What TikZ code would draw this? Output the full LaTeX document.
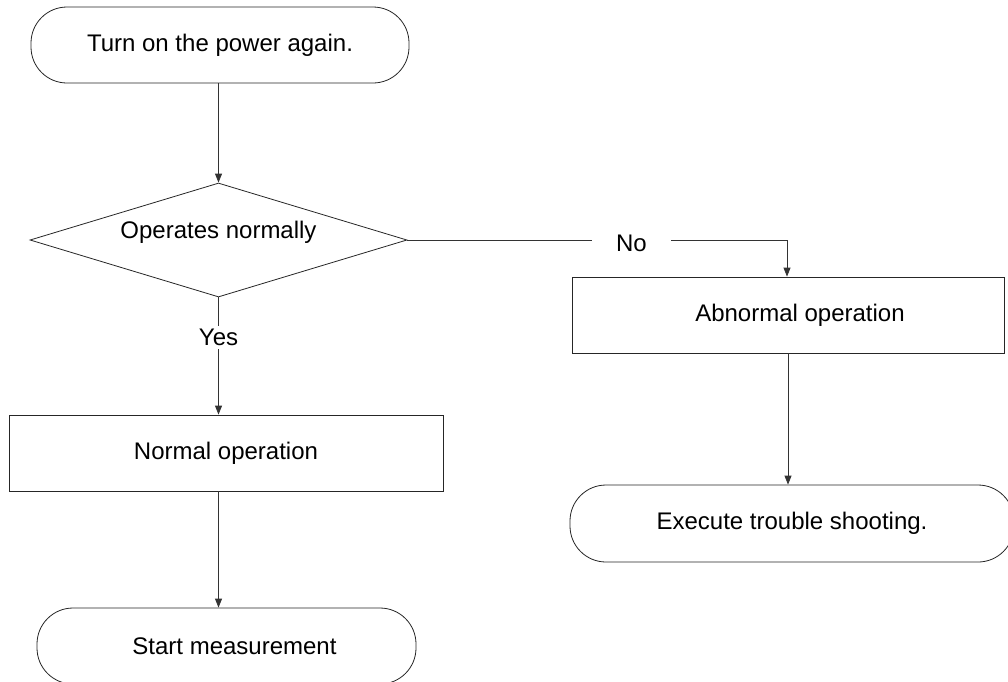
\documentclass[tikz,border=0pt]{standalone}
\usepackage{fontspec}
\setmainfont{Liberation Sans}
\usetikzlibrary{shapes.geometric,arrows.meta}
\tikzset{
  base/.style={draw=black!85, line width=0.8pt, fill=white, inner sep=0pt, font=\fontsize{24}{28}\selectfont},
  term/.style={base, rectangle, rounded corners=36pt},
  procbox/.style={base, rectangle},
  decide/.style={base, diamond},
  conn/.style={draw=black!80, line width=0.8pt, -{Triangle[length=9pt,width=7pt]}},
  lbl/.style={fill=white, font=\fontsize{24}{28}\selectfont}
}
\begin{document}
\begin{tikzpicture}[x=1pt,y=-1pt]
\useasboundingbox (0,0) rectangle (1008,681);
\clip (0,0) rectangle (1008,681);
\node[term, minimum width=378pt, minimum height=76pt] (top) at (220,45) {Turn on the power again.};
\node[decide, minimum width=377pt, minimum height=114pt,
      label={[yshift=8pt, font=\fontsize{24}{28}\selectfont]center:Operates normally}] (dia) at (218.5,240) {};
\node[procbox, minimum width=434pt, minimum height=76pt] (normal) at (226,453) {Normal operation};
\node[term, minimum width=379pt, minimum height=76pt] (start) at (226.5,646) {\hspace*{16pt}Start measurement};
\node[procbox, minimum width=432pt, minimum height=76pt] (abn) at (788,315) {\hspace*{24pt}Abnormal operation};
\node[term, minimum width=444pt, minimum height=77pt] (trouble) at (792,523.5) {Execute trouble shooting.};
\coordinate (nodown) at (787,240);
\draw[conn] (dia.north |- top.south) -- (dia.north);
\draw[conn] (dia.south) -- node[lbl, pos=0.34, inner xsep=2pt, inner ysep=3pt] {Yes} (dia.south |- normal.north);
\draw[conn] (dia.south |- normal.south) -- (dia.south |- start.north);
\draw[conn] (dia.east) -- node[lbl, pos=0.59, inner xsep=24pt, inner ysep=2pt, yshift=-3pt] {No} (nodown) -- (nodown |- abn.north);
\draw[conn] (abn.south) -- (abn.south |- trouble.north);
\end{tikzpicture}
\end{document}
